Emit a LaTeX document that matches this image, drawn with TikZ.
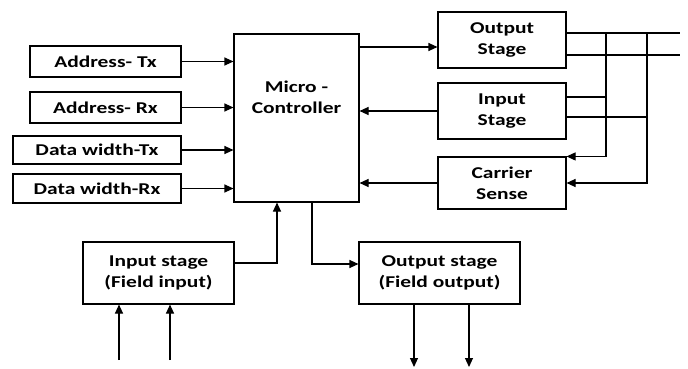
\documentclass[tikz,border=0pt]{standalone}
\usepackage{fontspec}
\setmainfont{Carlito}[FakeStretch=1.3]
\usetikzlibrary{positioning,calc,arrows.meta}

\begin{document}
\begin{tikzpicture}[x=1pt,y=-1pt]
	
		\tikzset{blockstyle/.style={draw,line width=1.1pt,inner sep=0pt,align=center,font=\fontsize{16.5}{21}\selectfont\bfseries}}
		\tikzset{blocktext/.style={inner sep=0pt,align=center,font=\fontsize{16.5}{21}\selectfont\bfseries}}
		\tikzset{linkstyle/.style={-,line width=1.1pt}}
		\tikzset{arrowstyle/.style={linkstyle,-{Triangle[length=9pt,width=8pt]}}}
		
		\useasboundingbox (0,0) rectangle (688,369);
		
		\newcommand\block[6] % {name}{x}{y}{width}{height}{text}
		{
			\node[blockstyle,minimum width=#4pt,minimum height=#5pt] at (#2,#3) (#1) {#6};
		}
		
		\block{atx}{105.5}{61.5}{151}{31}{Address- Tx}
		\block{arx}{105.5}{107.5}{151}{31}{Address- Rx}
		\block{dtx}{97}{150}{168}{28}{Data width-Tx}
		\block{drx}{97}{188.5}{168}{29}{Data width-Rx}
		\block{mc}{296.5}{118}{125}{168}{}
		\node[blocktext] at (296.5,97.5) (mctext) {Micro -\\Controller};
		
		\block{ost}{502}{40}{128}{56}{Output\\Stage}
		\block{ist}{502}{111}{128}{56}{Input\\Stage}
		\block{csn}{502}{183}{128}{52}{Carrier\\Sense}
		
		\block{fin}{158.5}{273}{151}{62}{Input stage\\(Field input)}
		\block{fout}{439.5}{273}{161}{62}{Output stage\\(Field output)}
		
		\foreach \n in {atx,arx,dtx,drx}
		{
			\draw[arrowstyle] (\n.east) -- (\n.east -| mc.west);
		}
		
		\coordinate (ostin) at ($(ost.west)+(0,7)$);
		\draw[arrowstyle] (ostin -| mc.east) -- (ostin);
		\draw[arrowstyle] (ist.west) -- (ist.west -| mc.east);
		\draw[arrowstyle] (csn.west) -- (csn.west -| mc.east);
		
		% line side
		\coordinate (ostout1) at ($(ost.east)+(0,-7)$);
		\coordinate (ostout2) at ($(ost.east)+(0,15)$);
		\coordinate (istout1) at ($(ist.east)+(0,-14)$);
		\coordinate (istout2) at ($(ist.east)+(0,6)$);
		\coordinate (bus1) at (606,33);
		\coordinate (bus2) at (647,33);
		\coordinate (busend1) at (680,33);
		\coordinate (busend2) at (680,55);
		
		\draw[linkstyle]
		(ostout1) to (busend1)
		(ostout2) to (busend2)
		(istout1) to (istout1 -| bus1)
		(istout2) to (istout2 -| bus2);
		\draw[arrowstyle] (bus1) |- (csn.north east);
		\draw[arrowstyle] (bus2) |- (csn.east);
		
		% field side
		\coordinate (finout) at ($(fin.east)+(0,-10)$);
		\coordinate (mcin) at ($(mc.south)+(-19.5,0)$);
		\coordinate (mcout) at ($(mc.south)+(15.5,0)$);
		\coordinate (foutin) at ($(fout.west)+(0,-9)$);
		\draw[arrowstyle] (finout) -| (mcin);
		\draw[arrowstyle] (mcout) |- (foutin);
		
		\foreach \x [count=\i] in {119,170}
		{
			\coordinate (fieldin\i) at (\x,360);
			\draw[arrowstyle] (fieldin\i) -- (fieldin\i |- fin.south);
		}
		\foreach \x [count=\i] in {414,469}
		{
			\coordinate (fieldout\i) at (\x,367);
			\draw[arrowstyle] (fieldout\i |- fout.south) -- (fieldout\i);
		}
	\end{tikzpicture}
\end{document}
